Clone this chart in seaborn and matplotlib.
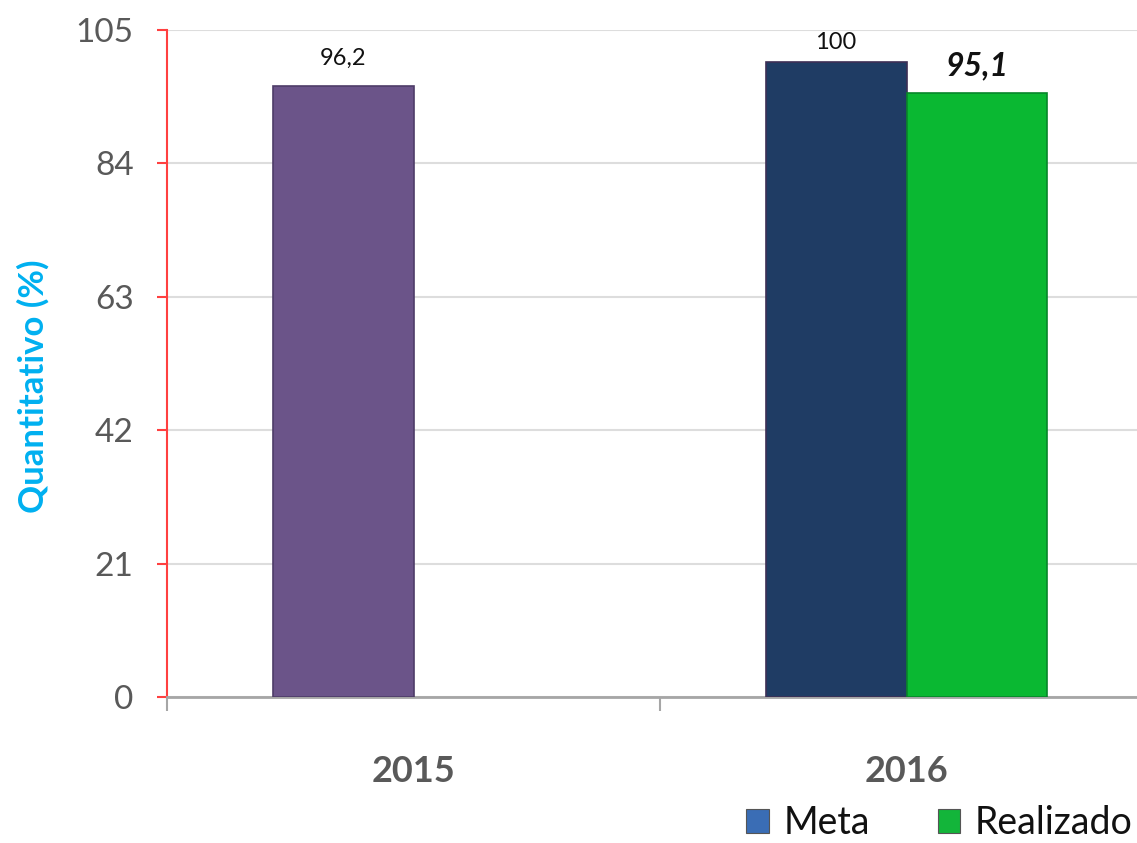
import numpy as np
import pandas as pd
import matplotlib
matplotlib.use("Agg")
import matplotlib.pyplot as plt
from matplotlib.patches import Patch
import seaborn as sns

years = ["2015", "2016"]
meta = [96.2, 100.0]
realizado = [np.nan, 95.1]
meta_labels = ["96,2", "100"]
realizado_labels = [None, "95,1"]
series = ["Meta", "Realizado"]
yticks = [0, 21, 42, 63, 84, 105]

bar_colors = {"Meta": "#1F3C64", "Realizado": "#0AB832"}
legend_colors = {"Meta": "#3A6DB5", "Realizado": "#13B53A"}
color_2015 = "#6B5489"

df = pd.DataFrame({
    "ano": years * 2,
    "serie": ["Meta"] * len(years) + ["Realizado"] * len(years),
    "valor": meta + realizado,
})

sns.set_theme(style="white")
plt.rcParams["font.family"] = ["Lato", "DejaVu Sans"]

fig = plt.figure(figsize=(11.37, 8.43), dpi=100)
ax = fig.add_axes([167 / 1137, 146 / 843, 986 / 1137, 667 / 843])

sns.barplot(
    data=df, x="ano", y="valor", hue="serie", hue_order=series,
    order=years, palette=bar_colors, width=0.572, gap=0,
    saturation=1, ax=ax, legend=False, zorder=3,
)


def category_of(bar):
    # index of the year under the bar centre
    return int(round(bar.get_x() + bar.get_width() / 2))


for bar in ax.containers[0]:
    bar.set_edgecolor("#3d2f55")
    bar.set_linewidth(1.2)
    if category_of(bar) == 0:
        # 2015 bar is drawn in purple
        bar.set_facecolor(color_2015)
        bar.set_edgecolor("#4e3c68")
for bar in ax.containers[1]:
    bar.set_edgecolor("#07862a")
    bar.set_linewidth(1.2)

# value labels
pads = [12, 6]
for bar in ax.containers[0]:
    i = category_of(bar)
    ax.annotate(meta_labels[i], (bar.get_x() + bar.get_width() / 2, bar.get_height()),
                xytext=(0, pads[i]), textcoords="offset points",
                ha="center", va="bottom", fontsize=17, color="#111111")
for bar in ax.containers[1]:
    h = bar.get_height()
    if np.isnan(h) or h == 0:
        continue
    lab = realizado_labels[category_of(bar)]
    if lab is None:
        continue
    ax.annotate(lab, (bar.get_x() + bar.get_width() / 2, h),
                xytext=(0, 9), textcoords="offset points",
                ha="center", va="bottom", fontsize=23, fontweight="bold",
                fontstyle="italic", color="#111111")

ax.set_ylim(0, 105)
ax.set_xlim(-0.5, 1.5)
ax.set_yticks(yticks)
ax.set_yticklabels([str(v) for v in yticks])
ax.yaxis.grid(True, color="#DDDDDD", linewidth=1.5, zorder=0)
ax.set_axisbelow(True)

ax.set_xlabel("")
ax.set_ylabel("")
ax.tick_params(axis="y", which="major", left=True, length=7, width=1.5,
               color="#FF4040", labelsize=24, labelcolor="#595959", pad=17)
ax.tick_params(axis="x", which="major", bottom=False, labelsize=26,
               labelcolor="#595959", pad=36)
for t in ax.get_xticklabels():
    t.set_fontweight("bold")
ax.set_xticks([-0.5, 0.5, 1.5], minor=True)
ax.tick_params(axis="x", which="minor", bottom=True, length=10, width=1.5,
               color="#A6A6A6")

for s in ["top", "right"]:
    ax.spines[s].set_visible(False)
ax.spines["left"].set_color("#FF4040")
ax.spines["left"].set_linewidth(1.5)
ax.spines["bottom"].set_color("#A6A6A6")
ax.spines["bottom"].set_linewidth(2)

fig.text(33 / 1137, 1 - 386 / 843, "Quantitativo (%)", rotation=90,
         ha="center", va="center", fontsize=25, fontweight="bold",
         color="#00B0F0")

# legend kept just inside the right edge so "Realizado" is not cut
handles = [Patch(facecolor=legend_colors[s], edgecolor="#555555", linewidth=0.8)
           for s in series]
fig.legend(handles, series, loc="center right",
           bbox_to_anchor=(1133 / 1137, 1 - 823 / 843), ncol=2, frameon=False,
           fontsize=27, handlelength=0.6, handleheight=0.6,
           handletextpad=0.4, columnspacing=1.8, borderpad=0,
           borderaxespad=0, labelcolor="#111111")

fig.savefig("out.png", dpi=100, facecolor="white")
